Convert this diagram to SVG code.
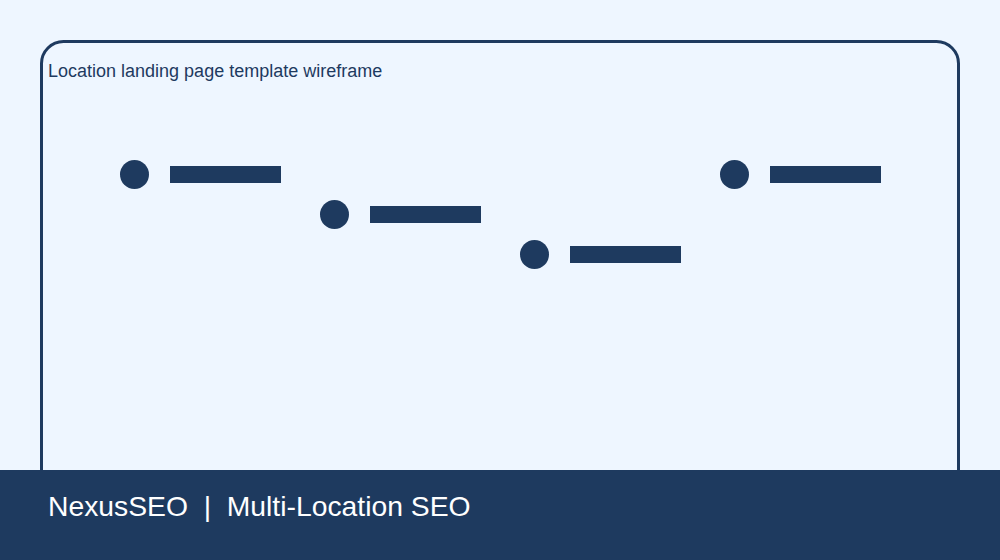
<svg xmlns="http://www.w3.org/2000/svg" width="1000" height="560" viewBox="0 0 1000 560">
<style>
.dot{fill:#1e3a5f}
.bar{fill:#1e3a5f}
.t{font-family:"Liberation Sans",Arial,sans-serif}
</style>
<rect width="1000" height="560" fill="#eef6ff"/>
<g id="frame">
<rect x="41.5" y="41.5" width="917" height="520" rx="22" fill="#eef6ff" stroke="#1e3a5f" stroke-width="3"/>
<text class="t" x="48" y="77" font-size="18" fill="#1e3a5f">Location landing page template wireframe</text>
</g>
<g id="connectors"></g>
<g id="item1"><circle class="dot" cx="134.5" cy="174.5" r="14.5"/><rect class="bar" x="170" y="166" width="111" height="17"/></g>
<g id="item2"><circle class="dot" cx="334.5" cy="214.5" r="14.5"/><rect class="bar" x="370" y="206" width="111" height="17"/></g>
<g id="item3"><circle class="dot" cx="534.5" cy="254.5" r="14.5"/><rect class="bar" x="570" y="246" width="111" height="17"/></g>
<g id="item4"><circle class="dot" cx="734.5" cy="174.5" r="14.5"/><rect class="bar" x="770" y="166" width="111" height="17"/></g>
<g id="footer">
<rect x="0" y="470" width="1000" height="90" fill="#1e3a5f"/>
<text class="t" x="48" y="516" font-size="28.3" fill="#ffffff" xml:space="preserve">NexusSEO  |  Multi-Location SEO</text>
</g>
</svg>
